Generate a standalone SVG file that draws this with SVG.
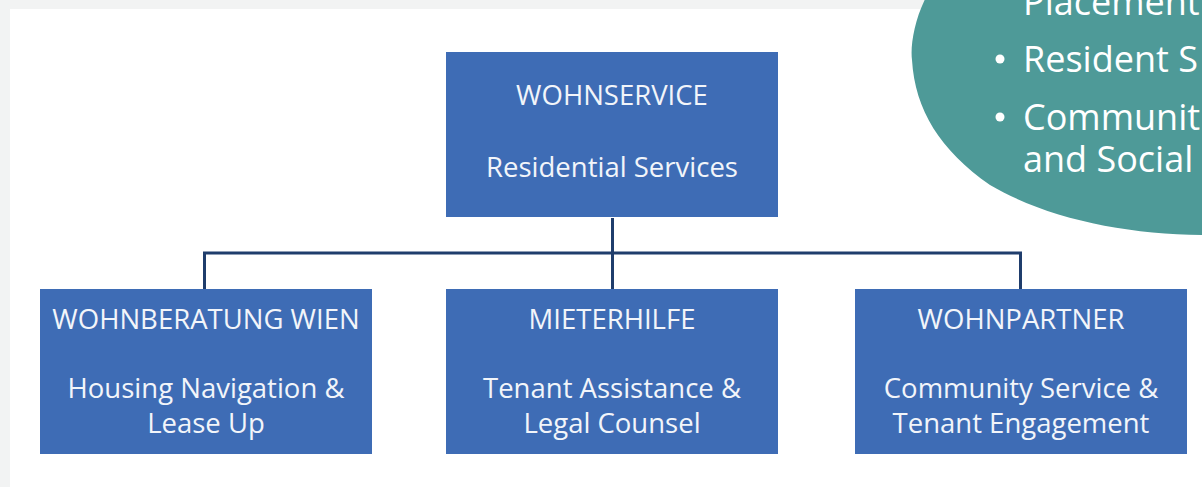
<svg xmlns="http://www.w3.org/2000/svg" width="1202" height="487" viewBox="0 0 1202 487">
  <style>
    .box { fill: #3e6cb5; }
    .lbl { font-family: "Open Sans", "Noto Sans", sans-serif; font-size: 27.5px; fill: #f2f5fa; text-anchor: middle; }
    .link { fill: none; stroke: #1f3d6c; stroke-width: 3; }
    .note { font-family: "Open Sans", "Noto Sans", sans-serif; font-size: 36px; fill: #ffffff; }
  </style>

  <!-- page frame -->
  <rect x="0" y="0" width="1202" height="487" fill="#f2f3f3"/>
  <rect x="10" y="9" width="1192" height="478" fill="#ffffff"/>

  <!-- connectors -->
  <g id="connectors">
    <line class="link" x1="612.5" y1="218" x2="612.5" y2="289"/>
    <polyline class="link" points="204.5,289 204.5,253 1020.5,253 1020.5,289"/>
  </g>

  <!-- root -->
  <g id="wohnservice">
    <rect class="box" x="446" y="52" width="332" height="165"/>
    <text class="lbl" x="612" y="105">WOHNSERVICE</text>
    <text class="lbl" x="612" y="177">Residential Services</text>
  </g>

  <g id="wohnberatung">
    <rect class="box" x="40" y="289" width="332" height="165"/>
    <text class="lbl" x="206" y="329">WOHNBERATUNG WIEN</text>
    <text class="lbl" x="206" y="398">Housing Navigation &amp;</text>
    <text class="lbl" x="206" y="433">Lease Up</text>
  </g>

  <g id="mieterhilfe">
    <rect class="box" x="446" y="289" width="332" height="165"/>
    <text class="lbl" x="612" y="329">MIETERHILFE</text>
    <text class="lbl" x="612" y="398">Tenant Assistance &amp;</text>
    <text class="lbl" x="612" y="433">Legal Counsel</text>
  </g>

  <g id="wohnpartner">
    <rect class="box" x="855" y="289" width="332" height="165"/>
    <text class="lbl" x="1021" y="329">WOHNPARTNER</text>
    <text class="lbl" x="1021" y="398">Community Service &amp;</text>
    <text class="lbl" x="1021" y="433">Tenant Engagement</text>
  </g>

  <!-- teal callout bubble in the corner -->
  <g id="callout">
    <path d="M 930 -10 C 915 15, 910 45, 912 60 C 915 110, 940 150, 990 185 C 1050 220, 1130 235, 1210 235 L 1210 -10 Z" fill="#4e9a98"/>
    <text class="note" x="1023" y="15">Placement</text>
    <circle cx="1000" cy="59" r="4.5" fill="#ffffff"/>
    <text class="note" x="1023" y="72">Resident S</text>
    <circle cx="1000" cy="117" r="4.5" fill="#ffffff"/>
    <text class="note" x="1023" y="130">Communit</text>
    <text class="note" x="1023" y="172">and Social</text>
  </g>
</svg>
